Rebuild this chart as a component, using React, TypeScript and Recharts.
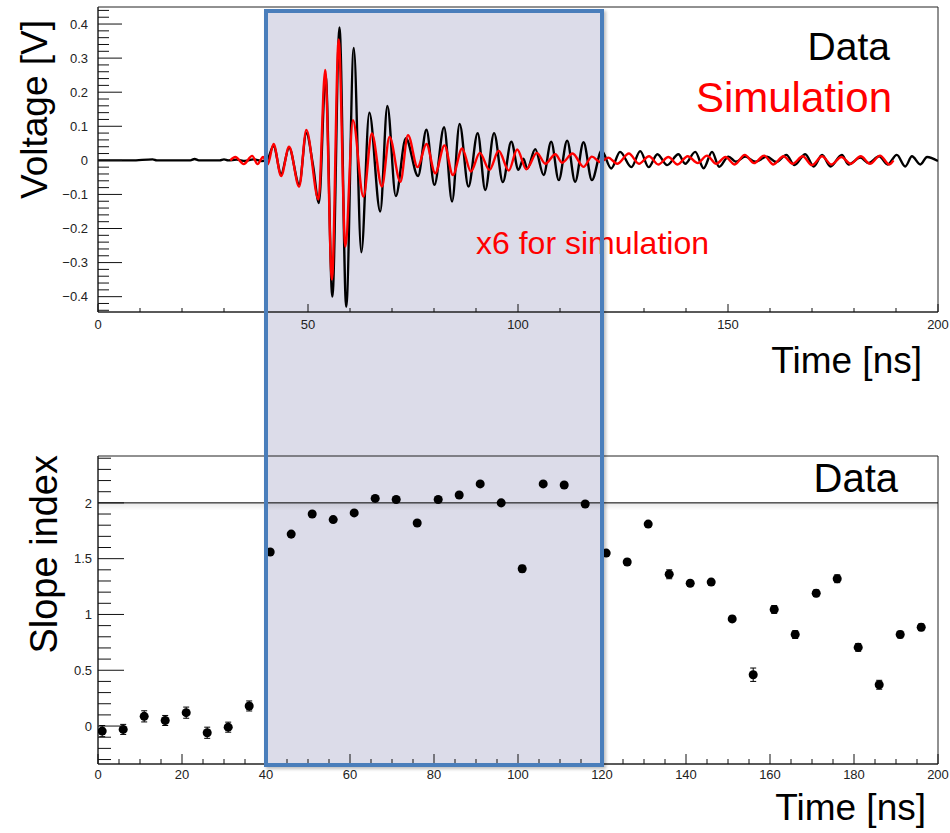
import React from 'react';
import {
  LineChart, Line, ComposedChart, Scatter, ErrorBar, XAxis, YAxis, ReferenceArea, ReferenceLine,
} from 'recharts';

const FONT = '"Liberation Sans", Arial, Helvetica, sans-serif';
const RED = '#ff0000';

// top panel: waveform turning points (time in ns, voltage in V)
const dataTime = [
  0, 8, 13, 14, 22, 23, 24, 29, 30, 31, 33, 35, 37, 39, 40.2,
  41.8, 43.6, 45.5, 47.9, 49.6, 51.2, 52.6, 54.2, 55.8, 57.5, 59.1, 60.9, 62.7, 64.6,
  67.2, 68.9, 70.9, 73.3, 76.2, 78.2, 80.1, 82.4, 84.3, 86.1, 88.2, 90.4, 92.2, 94.3,
  96.4, 98.4, 100.1, 101.3, 102.2, 104.1, 106.1, 107.9, 109.7, 111.7, 113.6, 115.6,
  117.6, 119.9, 122.2, 124.3, 127.0, 129.1, 131.1, 133.2, 135.5, 138.2, 139.8, 142.2,
  144.2, 146.2, 147.9, 150.1, 151.9, 154.1, 156.5, 159.3, 161.5, 163.9, 165.8, 168.4,
  170.4, 172.4, 174.4, 177.1, 178.7, 181.5, 183.5, 186.0, 188.0, 190.2, 192.2, 193.8,
  195.8, 197.4, 200,
];
const dataVolt = [
  0, 0, 0.003, 0, 0, 0.004, 0, 0, 0.003, 0, 0.002, -0.002, 0.003, -0.002, 0,
  0.042, -0.04, 0.037, -0.07, 0.08, -0.015, -0.125, 0.25, -0.4, 0.39, -0.43, 0.33, -0.27, 0.14,
  -0.15, 0.16, -0.105, 0.065, -0.046, 0.09, -0.072, 0.097, -0.121, 0.107, -0.077, 0.08, -0.087, 0.08,
  -0.064, 0.055, -0.028, 0.005, -0.025, 0.033, -0.043, 0.055, -0.058, 0.058, -0.063, 0.053,
  -0.058, 0.028, -0.024, 0.025, -0.02, 0.027, -0.02, 0.018, -0.014, 0.018, -0.01, 0.025,
  -0.023, 0.025, -0.019, 0.011, -0.004, 0.011, -0.004, 0.011, -0.005, 0.016, -0.014, 0.018,
  -0.018, 0.016, -0.018, 0.016, -0.012, 0.008, -0.008, 0.012, -0.012, 0.016, -0.018, 0.012,
  -0.012, 0.01, -0.002,
];
const simTime = [
  31.5, 32.7, 34.7, 36.7, 38.0, 39.3, 40.4, 41.8, 43.6, 45.5, 47.9, 49.6, 52.5, 54.1,
  55.7, 57.3, 58.9, 60.7, 63.2, 65.2, 67.6, 69.4, 72.0, 73.8, 76.1, 78.2, 80.3, 82.5,
  84.5, 86.7, 88.8, 90.9, 93.2, 95.4, 97.8, 99.8, 102.0, 104.5, 106.5, 108.9, 110.5,
  113.0, 115.6, 117.6, 119.6, 121.5, 123.6, 126.4, 128.8, 131.2, 133.4, 135.8, 138.0,
  140.4, 142.8, 145.0, 147.2, 149.4, 151.6, 154.0, 156.2, 158.6, 160.8, 163.2, 165.4,
  167.8, 170.0, 172.4, 174.6, 177.0, 179.2, 181.6, 183.8, 186.2, 188.4, 189.4,
];
const simVolt = [
  0, 0.01, -0.011, 0.013, -0.011, 0.01, -0.012, 0.048, -0.046, 0.04, -0.077, 0.089, -0.115, 0.265,
  -0.35, 0.355, -0.253, 0.118, -0.107, 0.079, -0.077, 0.069, -0.063, 0.074, -0.02, 0.048, -0.038, 0.044,
  -0.043, 0.035, -0.033, 0.022, -0.028, 0.028, -0.03, 0.032, -0.026, 0.022, -0.01, 0.018, -0.007,
  0.02, -0.019, 0.011, -0.005, 0.008, -0.01, 0.02, -0.01, 0.012, -0.012, 0.01, -0.012,
  0.012, -0.008, 0.014, -0.01, 0.01, -0.012, 0.016, -0.008, 0.014, -0.012, 0.012, -0.01,
  0.012, -0.014, 0.012, -0.012, 0.01, -0.01, 0.012, -0.01, 0.014, -0.012, 0,
];

// bottom panel: slope index per 5 ns window
const slopeTime = [
  1, 6, 11, 16, 21, 26, 31, 36, 41, 46, 51, 56, 61, 66, 71, 76, 81, 86, 91, 96,
  101, 106, 111, 116, 121, 126, 131, 136, 141, 146, 151, 156, 161, 166, 171, 176, 181, 186, 191, 196,
];
const slopeIndex = [
  -0.045, -0.03, 0.087, 0.05, 0.12, -0.06, -0.01, 0.18, 1.56, 1.72, 1.9, 1.85, 1.91, 2.04, 2.03, 1.82, 2.03, 2.07, 2.17, 2.0,
  1.41, 2.17, 2.16, 1.99, 1.55, 1.47, 1.81, 1.36, 1.28, 1.29, 0.96, 0.46, 1.045, 0.82, 1.19, 1.32, 0.705, 0.37, 0.82, 0.885,
];
const slopeErr = [
  0.05, 0.045, 0.05, 0.045, 0.05, 0.05, 0.045, 0.045, 0.02, 0.02, 0.02, 0.02, 0.02, 0.02, 0.02, 0.02, 0.02, 0.02, 0.02, 0.02,
  0.03, 0.02, 0.02, 0.02, 0.02, 0.025, 0.02, 0.04, 0.025, 0.025, 0.025, 0.06, 0.035, 0.035, 0.03, 0.035, 0.035, 0.04, 0.03, 0.03,
];

const voltLabels = ['0.4', '0.3', '0.2', '0.1', '0', '−0.1', '−0.2', '−0.3', '−0.4'];
const slopeLabels = ['2', '1.5', '1', '0.5', '0'];

const waveData = dataTime.map((t, i) => ({ t, v: dataVolt[i] }));
const waveSim = simTime.map((t, i) => ({ t, v: simVolt[i] }));
const slopePoints = slopeTime.map((t, i) => ({ t, s: slopeIndex[i], err: slopeErr[i] }));

// layout
const W = 950;
const PLOT_L = 98;
const PLOT_R = 938;
const TOP_H = 420;
const BOT_H = 413;
const VOLT_DOMAIN = [-0.445, 0.45];
const SLOPE_DOMAIN = [-0.34, 2.42];
const xPix = (t: number) => PLOT_L + (t / 200) * (PLOT_R - PLOT_L);

function ticksBetween(lo: number, hi: number, step: number) {
  const out: number[] = [];
  const n = Math.round((hi - lo) / step);
  for (let i = 0; i <= n; i++) out.push(+(lo + i * step).toFixed(4));
  return out;
}
const isMajor = (v: number, step: number) => Math.abs(v / step - Math.round(v / step)) < 1e-6;

const fmtVolt = (v: number) => voltLabels.find((l) => Math.abs(parseFloat(l.replace('−', '-')) - v) < 1e-6) || '';
const fmtSlope = (v: number) => slopeLabels.find((l) => Math.abs(parseFloat(l) - v) < 1e-6) || '';

const yTick = (step: number, longLen: number, shortLen: number, gap: number, fmt: (v: number) => string) =>
  (p: any) => {
    const v = p.payload.value;
    const m = isMajor(v, step);
    return (
      <g>
        <line x1={p.x} x2={p.x + (m ? longLen : shortLen)} y1={p.y} y2={p.y} stroke="#111" strokeWidth={1} />
        {m && (
          <text x={p.x - gap} y={p.y} dy="0.36em" textAnchor="end" fontSize={13} fontFamily={FONT} fill="#222">
            {fmt(v)}
          </text>
        )}
      </g>
    );
  };

const xTick = (step: number, longLen: number, shortLen: number, gap: number) =>
  (p: any) => {
    const v = p.payload.value;
    const m = isMajor(v, step);
    return (
      <g>
        <line x1={p.x} x2={p.x} y1={p.y} y2={p.y - (m ? longLen : shortLen)} stroke="#111" strokeWidth={1} />
        {m && (
          <text x={p.x} y={p.y + gap} textAnchor="middle" fontSize={13} fontFamily={FONT} fill="#222">
            {v}
          </text>
        )}
      </g>
    );
  };

const txt = { fontFamily: FONT };

export default function App() {
  const boxLeft = xPix(40) - 2;
  const boxWidth = xPix(120) - xPix(40) + 4;
  const boxTop = 9;
  const boxHeight = 758;

  return (
    <div style={{ position: 'absolute', left: 0, top: 0, width: W, height: TOP_H + BOT_H, background: '#fff' }}>
      <div style={{ position: 'absolute', left: boxLeft, top: boxTop, width: boxWidth, height: boxHeight, background: '#dcdce9' }} />

      <LineChart width={W} height={TOP_H} margin={{ top: 7, right: W - PLOT_R, bottom: 78, left: PLOT_L - 60 }}>
        <XAxis
          dataKey="t" type="number" domain={[0, 200]} allowDataOverflow
          ticks={ticksBetween(0, 200, 10)} interval={0} tickSize={0} tickMargin={0}
          tick={xTick(50, 8, 4, 17)} axisLine={{ stroke: '#222' }} height={30}
        />
        <YAxis
          type="number" domain={VOLT_DOMAIN} allowDataOverflow width={60}
          ticks={ticksBetween(-0.44, 0.44, 0.02)} interval={0} tickSize={0} tickMargin={0}
          tick={yTick(0.1, 24, 11, 10, fmtVolt)} axisLine={{ stroke: '#222' }}
        />
        <ReferenceArea x1={0} x2={200} y1={VOLT_DOMAIN[0]} y2={VOLT_DOMAIN[1]} fill="none" stroke="#222" strokeWidth={1} />
        <Line data={waveData} dataKey="v" type="monotone" stroke="#000" strokeWidth={2.4} dot={false} isAnimationActive={false} />
        <Line data={waveSim} dataKey="v" type="monotone" stroke={RED} strokeWidth={2.4} dot={false} isAnimationActive={false} />
        <text x={47} y={20} transform="rotate(-90, 47, 20)" textAnchor="end" fontSize={37} {...txt}>Voltage [V]</text>
        <text x={922} y={373} textAnchor="end" fontSize={37} {...txt}>Time [ns]</text>
        <text x={890} y={60} textAnchor="end" fontSize={39} {...txt}>Data</text>
        <text x={892} y={112} textAnchor="end" fontSize={42} fill={RED} {...txt}>Simulation</text>
        <text x={476} y={254} fontSize={32} fill={RED} {...txt}>x6 for simulation</text>
      </LineChart>

      <ComposedChart width={W} height={BOT_H} data={slopePoints} margin={{ top: 36, right: W - PLOT_R, bottom: 39, left: PLOT_L - 60 }}>
        <defs>
          <linearGradient id="legendShadow" x1="0" y1="0" x2="0" y2="1">
            <stop offset="0%" stopColor="#000" stopOpacity={0.18} />
            <stop offset="100%" stopColor="#000" stopOpacity={0} />
          </linearGradient>
        </defs>
        <XAxis
          dataKey="t" type="number" domain={[0, 200]} allowDataOverflow
          ticks={ticksBetween(0, 200, 5)} interval={0} tickSize={0} tickMargin={0}
          tick={xTick(20, 10, 5, 15)} axisLine={{ stroke: '#222' }} height={30}
        />
        <YAxis
          type="number" domain={SLOPE_DOMAIN} allowDataOverflow width={60}
          ticks={ticksBetween(-0.3, 2.4, 0.1)} interval={0} tickSize={0} tickMargin={0}
          tick={yTick(0.5, 26, 13, 6, fmtSlope)} axisLine={{ stroke: '#222' }}
        />
        <ReferenceArea x1={0} x2={200} y1={1.93} y2={2} fill="url(#legendShadow)" stroke="none" />
        <ReferenceArea x1={0} x2={200} y1={SLOPE_DOMAIN[0]} y2={SLOPE_DOMAIN[1]} fill="none" stroke="#222" strokeWidth={1} />
        <ReferenceLine y={2} stroke="#000" strokeWidth={1} />
        <Scatter dataKey="s" fill="#000" isAnimationActive={false}>
          <ErrorBar dataKey="err" direction="y" width={3} stroke="#000" strokeWidth={1} />
        </Scatter>
        <text x={57} y={35} transform="rotate(-90, 57, 35)" textAnchor="end" fontSize={38} {...txt}>Slope index</text>
        <text x={926} y={400} textAnchor="end" fontSize={37} {...txt}>Time [ns]</text>
        <text x={898} y={72} textAnchor="end" fontSize={40} {...txt}>Data</text>
      </ComposedChart>

      <div
        style={{
          position: 'absolute', left: boxLeft, top: boxTop, width: boxWidth, height: boxHeight,
          boxSizing: 'border-box', border: '4px solid #4a7ebb', boxShadow: '2px 2px 3px rgba(0,0,0,0.25)', pointerEvents: 'none',
        }}
      />
    </div>
  );
}
